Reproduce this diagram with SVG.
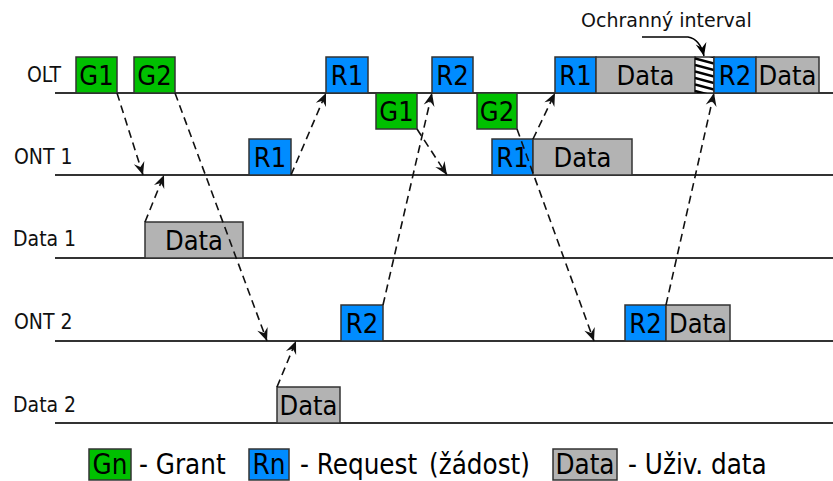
<svg xmlns="http://www.w3.org/2000/svg" width="833" height="481" viewBox="0 0 833 481">
<style>
  .tl{stroke:#333;stroke-width:2;fill:none}
  .lbl{font-family:"DejaVu Sans Condensed","DejaVu Sans",sans-serif;font-stretch:condensed;font-size:21px;fill:#111}
  .gl{font-family:"DejaVu Sans",sans-serif;font-size:19px;fill:#111}
  .bx{stroke:#333;stroke-width:1.5}
  .g{fill:#00c000}
  .r{fill:#008cff}
  .d{fill:#b3b3b3}
  .bt{font-family:"DejaVu Sans Condensed","DejaVu Sans",sans-serif;font-stretch:condensed;font-size:27px;fill:#000;text-anchor:middle}
  .lt{font-family:"DejaVu Sans Condensed","DejaVu Sans",sans-serif;font-stretch:condensed;font-size:27.5px;fill:#000}
  .ar{stroke:#111;stroke-width:1.6;fill:none;stroke-dasharray:8,5;marker-end:url(#ah)}
</style>
<defs>
  <marker id="ah" viewBox="-14 -7 15 14" refX="0" refY="0" markerWidth="15" markerHeight="14" markerUnits="userSpaceOnUse" orient="auto">
    <path d="M0,0 L-13,-5.5 L-8.5,0 L-13,5.5 Z" fill="#111"/>
  </marker>
  <marker id="ahs" viewBox="-14 -7 15 14" refX="0" refY="0" markerWidth="15" markerHeight="14" markerUnits="userSpaceOnUse" orient="auto">
    <path d="M0,0 L-13,-5.5 L-8.5,0 L-13,5.5 Z" fill="#000"/>
  </marker>
  <clipPath id="hc"><rect x="695" y="57" width="19" height="36"/></clipPath>
</defs>
<rect width="833" height="481" fill="#fff"/>

<g id="timelines">
  <line class="tl" x1="55" y1="93" x2="833" y2="93"/>
  <line class="tl" x1="55" y1="175" x2="833" y2="175"/>
  <line class="tl" x1="55" y1="258" x2="833" y2="258"/>
  <line class="tl" x1="55" y1="341" x2="833" y2="341"/>
  <line class="tl" x1="55" y1="423" x2="833" y2="423"/>
  <text class="lbl" x="27" y="82">OLT</text>
  <text class="lbl" x="14" y="164">ONT 1</text>
  <text class="lbl" x="13" y="246">Data 1</text>
  <text class="lbl" x="14" y="329">ONT 2</text>
  <text class="lbl" x="13" y="412">Data 2</text>
</g>

<g id="olt-g1"><rect class="bx g" x="76" y="57" width="41" height="36"/><text class="bt" x="96.5" y="85">G1</text></g>
<g id="olt-g2"><rect class="bx g" x="134" y="57" width="41" height="36"/><text class="bt" x="154.5" y="85">G2</text></g>
<g id="olt-r1"><rect class="bx r" x="326" y="57" width="42" height="36"/><text class="bt" x="347" y="85">R1</text></g>
<g id="olt-g1b"><rect class="bx g" x="376" y="93" width="41" height="36"/><text class="bt" x="396.5" y="121">G1</text></g>
<g id="olt-r2"><rect class="bx r" x="432" y="57" width="41" height="36"/><text class="bt" x="452.5" y="85">R2</text></g>
<g id="olt-g2b"><rect class="bx g" x="477" y="93" width="40" height="36"/><text class="bt" x="497" y="121">G2</text></g>
<g id="olt-r1b"><rect class="bx r" x="555" y="57" width="41" height="36"/><text class="bt" x="575.5" y="85">R1</text></g>
<g id="olt-data1"><rect class="bx d" x="596" y="57" width="99" height="36"/><text class="bt" x="645.5" y="85">Data</text></g>
<g id="olt-guard">
  <rect x="695" y="57" width="19" height="36" fill="#fff" stroke="#333" stroke-width="1.5"/>
  <g clip-path="url(#hc)" stroke="#000" stroke-width="2.5">
    <line x1="695" y1="52" x2="714" y2="57"/>
    <line x1="695" y1="58.5" x2="714" y2="63.5"/>
    <line x1="695" y1="65" x2="714" y2="70"/>
    <line x1="695" y1="71.5" x2="714" y2="76.5"/>
    <line x1="695" y1="78" x2="714" y2="83"/>
    <line x1="695" y1="84.5" x2="714" y2="89.5"/>
    <line x1="695" y1="91" x2="714" y2="96"/>
  </g>
</g>
<g id="olt-r2b"><rect class="bx r" x="714" y="57" width="42" height="36"/><text class="bt" x="735" y="85">R2</text></g>
<g id="olt-data2"><rect class="bx d" x="756" y="57" width="63" height="36"/><text class="bt" x="787.5" y="85">Data</text></g>

<g id="ont1-r1"><rect class="bx r" x="249" y="139" width="42" height="36"/><text class="bt" x="270" y="167">R1</text></g>
<g id="ont1-r1b"><rect class="bx r" x="492" y="139" width="41" height="36"/><text class="bt" x="512.5" y="167">R1</text></g>
<g id="ont1-data"><rect class="bx d" x="533" y="139" width="99" height="36"/><text class="bt" x="582.5" y="167">Data</text></g>

<g id="data1-data"><rect class="bx d" x="145" y="222" width="98" height="36"/><text class="bt" x="194" y="250">Data</text></g>

<g id="ont2-r2"><rect class="bx r" x="341" y="305" width="42" height="36"/><text class="bt" x="362" y="333">R2</text></g>
<g id="ont2-r2b"><rect class="bx r" x="625" y="305" width="41" height="36"/><text class="bt" x="645.5" y="333">R2</text></g>
<g id="ont2-data"><rect class="bx d" x="666" y="305" width="64" height="36"/><text class="bt" x="698" y="333">Data</text></g>

<g id="data2-data"><rect class="bx d" x="277" y="387" width="63" height="36"/><text class="bt" x="308.5" y="415">Data</text></g>

<g id="guard-label">
  <text class="gl" x="581" y="27">Ochranný interval</text>
</g>

<g id="connectors">
  <path class="ar" d="M117,93 L143,175"/>
  <path class="ar" d="M145,222 L164,175"/>
  <path class="ar" d="M175,93 L267,341"/>
  <path class="ar" d="M277,387 L296,341"/>
  <path class="ar" d="M291,175 L326,93"/>
  <path class="ar" d="M383,305 L432,93"/>
  <path class="ar" d="M417,129 L447,175"/>
  <path class="ar" d="M517,129 L594,341"/>
  <path class="ar" d="M533,139 L555,93"/>
  <path class="ar" d="M666,305 L714,93"/>
  <path d="M642,37 L688,37 Q700,39 704,56" fill="none" stroke="#000" stroke-width="1.5" marker-end="url(#ahs)"/>
</g>

<g id="legend">
  <rect class="bx g" x="89" y="449" width="42" height="31"/>
  <text class="lt" x="110" y="474" text-anchor="middle">Gn</text>
  <text class="lt" x="139" y="474">- Grant</text>
  <rect class="bx r" x="249" y="449" width="40" height="31"/>
  <text class="lt" x="269" y="474" text-anchor="middle">Rn</text>
  <text class="lt" x="300" y="474">- Request</text>
  <text class="lt" x="429" y="474">(žádost)</text>
  <rect class="bx d" x="553" y="449" width="64" height="31"/>
  <text class="lt" x="585" y="474" text-anchor="middle">Data</text>
  <text class="lt" x="628" y="474">- Uživ. data</text>
</g>
</svg>
